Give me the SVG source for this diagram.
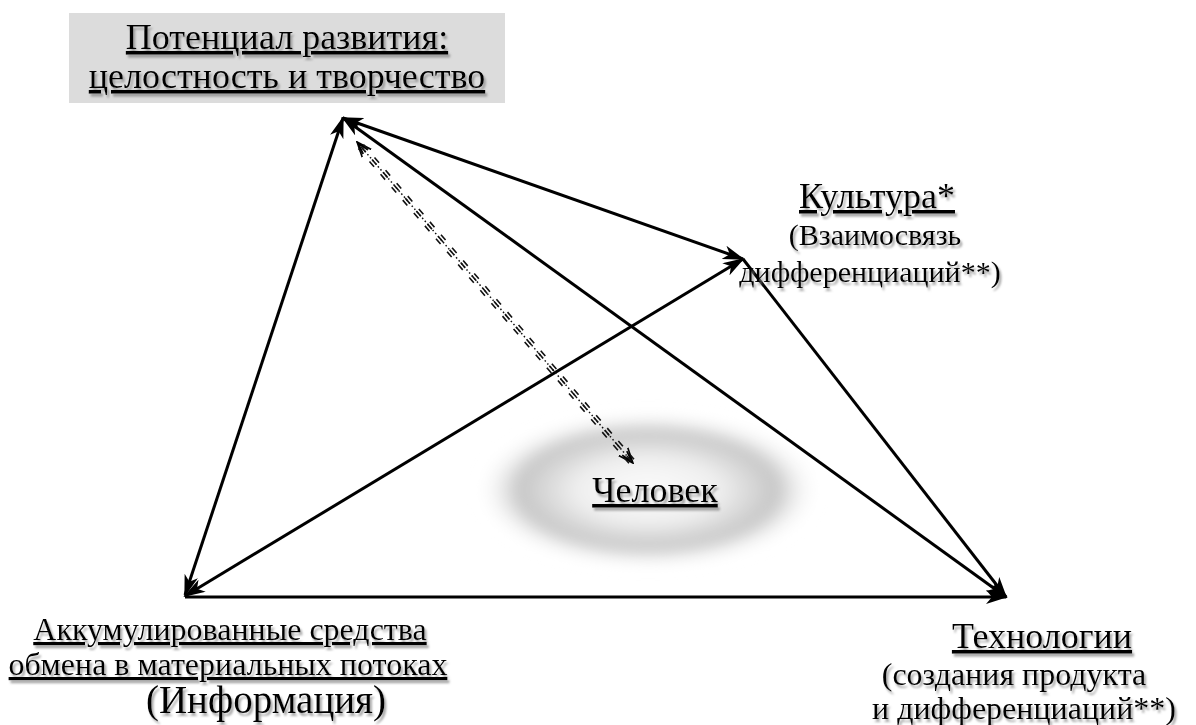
<svg xmlns="http://www.w3.org/2000/svg" width="1196" height="725" viewBox="0 0 1196 725">
<defs>
<style>
.t{font-family:"Liberation Serif","Times New Roman",serif;fill:#000;text-decoration:underline;filter:url(#sh)}
.s{font-family:"Liberation Serif","Times New Roman",serif;fill:#000;filter:url(#sh)}
.ln{stroke:#000;stroke-width:3;fill:none}
.dl{fill:none;stroke:#111}
</style>
<filter id="sh" x="-10%" y="-30%" width="120%" height="160%">
<feDropShadow dx="2" dy="3" stdDeviation="1.2" flood-color="#808080" flood-opacity="0.7"/>
</filter>
<filter id="soft" x="-30%" y="-50%" width="160%" height="200%">
<feGaussianBlur stdDeviation="7"/>
</filter>
<radialGradient id="glow" cx="0.5" cy="0.5" r="0.5">
<stop offset="0" stop-color="#fbfbfb"/>
<stop offset="0.4" stop-color="#f0f0f0"/>
<stop offset="0.75" stop-color="#c6c6c6"/>
<stop offset="1" stop-color="#ffffff" stop-opacity="0"/>
</radialGradient>
<marker id="ah" viewBox="0 0 22 14" refX="20" refY="7" markerWidth="22" markerHeight="14" markerUnits="userSpaceOnUse" orient="auto-start-reverse">
<path d="M0,0 L22,7 L0,14 L6,7 Z" fill="#000"/>
</marker>
<marker id="oh" viewBox="0 0 16 14" refX="15" refY="7" markerWidth="16" markerHeight="14" markerUnits="userSpaceOnUse" orient="auto-start-reverse">
<path d="M0,1 L15,7 L0,13 M2,4 L13,7 M2,10 L13,7" fill="none" stroke="#000" stroke-width="1.6"/>
</marker>
</defs>
<rect width="1196" height="725" fill="#fff"/>

<g id="human">
<ellipse cx="648" cy="490" rx="172" ry="78" fill="url(#glow)" filter="url(#soft)"/>
<text class="t" x="655" y="502" font-size="36" text-anchor="middle">Человек</text>
</g>

<g id="connectors">
<line class="ln" x1="185" y1="595" x2="343" y2="118" marker-start="url(#ah)" marker-end="url(#ah)"/>
<line class="ln" x1="343" y1="118" x2="743" y2="259" marker-start="url(#ah)" marker-end="url(#ah)"/>
<line class="ln" x1="343" y1="118" x2="1006" y2="597" marker-start="url(#ah)" marker-end="url(#ah)"/>
<line class="ln" x1="185" y1="596" x2="743" y2="259" marker-start="url(#ah)" marker-end="url(#ah)"/>
<line class="ln" x1="743" y1="259" x2="1006" y2="597" marker-end="url(#ah)"/>
<line class="ln" x1="185" y1="597" x2="1006" y2="597" marker-end="url(#ah)"/>
<g id="dashed">
<line class="dl" x1="357" y1="142" x2="633" y2="463" stroke-width="1.5" stroke-dasharray="1.5 2.5" marker-start="url(#oh)" marker-end="url(#oh)"/>
<line class="dl" x1="359.5" y1="140" x2="635.5" y2="461" stroke-width="1.6" stroke-dasharray="0 6 7 4"/>
<line class="dl" x1="357" y1="142" x2="633" y2="463" stroke-width="1.6" stroke-dasharray="0 6 7 4"/>
<line class="dl" x1="354.5" y1="144" x2="630.5" y2="465" stroke-width="1.6" stroke-dasharray="0 6 7 4"/>
</g>
</g>

<g id="top">
<rect x="69" y="13" width="436" height="90" fill="#dcdcdc"/>
<text class="t" x="287" y="49" font-size="36" text-anchor="middle">Потенциал развития:</text>
<text class="t" x="287" y="88" font-size="36" text-anchor="middle">целостность и творчество</text>
</g>

<g id="culture">
<text class="t" x="877" y="208" font-size="36" text-anchor="middle">Культура*</text>
<text class="s" x="875" y="245" font-size="30" text-anchor="middle">(Взаимосвязь</text>
<text class="s" x="870" y="282" font-size="30" text-anchor="middle">дифференциаций**)</text>
</g>

<g id="info">
<text class="t" x="230" y="640" font-size="32" text-anchor="middle">Аккумулированные средства</text>
<text class="t" x="228" y="675" font-size="32" text-anchor="middle">обмена в материальных потоках</text>
<text class="s" x="266" y="713" font-size="39" text-anchor="middle">(Информация)</text>
</g>

<g id="tech">
<text class="t" x="1042" y="648" font-size="36" text-anchor="middle">Технологии</text>
<text class="s" x="1014" y="685" font-size="32" text-anchor="middle">(создания продукта</text>
<text class="s" x="1024" y="719" font-size="32" text-anchor="middle">и дифференциаций**)</text>
</g>
</svg>
